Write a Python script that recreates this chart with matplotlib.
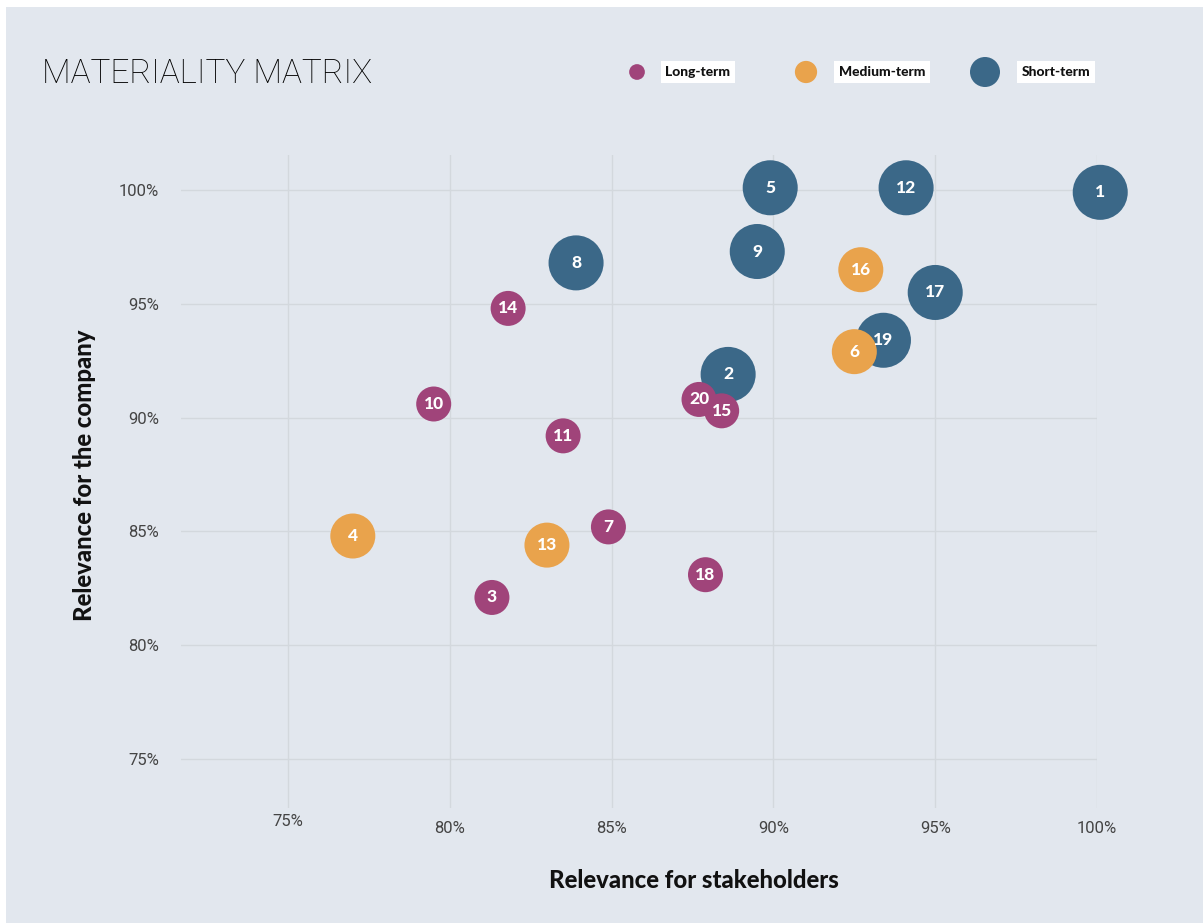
import matplotlib
matplotlib.use('Agg')
import matplotlib.pyplot as plt
from matplotlib.patches import Rectangle

# values
short_ids = ['1', '2', '5', '8', '9', '12', '17', '19']
short_x = [100.1, 88.6, 89.9, 83.9, 89.5, 94.1, 95.0, 93.4]
short_y = [99.9, 91.9, 100.1, 96.8, 97.3, 100.1, 95.5, 93.4]

medium_ids = ['4', '6', '13', '16']
medium_x = [77.0, 92.5, 83.0, 92.7]
medium_y = [84.8, 92.9, 84.4, 96.5]

long_ids = ['3', '7', '10', '11', '14', '18', '20', '15']
long_x = [81.3, 84.9, 79.5, 83.5, 81.8, 87.9, 87.7, 88.4]
long_y = [82.1, 85.2, 90.6, 89.2, 94.8, 83.1, 90.8, 90.3]

ticks = [75, 80, 85, 90, 95, 100]
tick_labels = ['75%', '80%', '85%', '90%', '95%', '100%']

bg = '#e2e7ee'
c_long, c_med, c_short = '#a0447a', '#e9a34c', '#3b6888'
bold_font = 'Lato'

W, H = 1203, 923
fig = plt.figure(figsize=(W / 100, H / 100), dpi=100)
fig.patch.set_facecolor('white')
fig.add_artist(Rectangle((6 / W, 0), 1 - 6 / W, 1 - 7 / H, transform=fig.transFigure,
                         facecolor=bg, edgecolor='none', zorder=-10))

ax = fig.add_axes([181 / W, 1 - 808 / H, (1097 - 181) / W, (808 - 155) / H])
ax.set_facecolor('none')
ax.set_xlim(71.69, 100.0)
ax.set_ylim(72.85, 101.54)
for s in ax.spines.values():
    s.set_visible(False)
ax.set_xticks(ticks)
ax.set_xticklabels([])
ax.set_yticks(ticks)
ax.set_yticklabels(tick_labels, fontsize=12, color='#444444', family='Roboto')
ax.tick_params(length=0, pad=16)
ax.grid(True, color='#d3d8dd', lw=1)
ax.set_axisbelow(True)

# x tick labels (the first one sits a bit higher in the reference)
for t, lab in zip(ticks, tick_labels):
    yy = -0.021 if t == 75 else -0.031
    ax.text(t, yy, lab, transform=ax.get_xaxis_transform(), ha='center', va='center',
            fontsize=12, color='#444444', family='Roboto')

groups = [(short_ids, short_x, short_y, c_short, 1570),
          (medium_ids, medium_x, medium_y, c_med, 1050),
          (long_ids, long_x, long_y, c_long, 635)]
for ids, xs, ys, col, size in groups:
    ax.scatter(xs, ys, s=size, color=col, edgecolors='none', zorder=3, clip_on=False)
for ids, xs, ys, col, size in groups:
    for i, x, y in zip(ids, xs, ys):
        ax.text(x, y, i, ha='center', va='center', color='white', fontsize=12.5,
                fontweight='black', family=bold_font, zorder=5)

fig.text(42 / W, 1 - 74 / H, 'MATERIALITY MATRIX', ha='left', va='center',
         fontsize=24, fontweight='light', family='Roboto', color='#000000')

fig.text(694 / W, 1 - 880 / H, 'Relevance for stakeholders', ha='center', va='center',
         fontsize=17.2, fontweight='black', family=bold_font, color='#111111')
fig.text(85 / W, 1 - 475 / H, 'Relevance for the company', ha='center', va='center',
         rotation=90, fontsize=17.2, fontweight='black', family=bold_font, color='#111111')

# legend
leg_names = ['Long-term', 'Medium-term', 'Short-term']
leg_cols = [c_long, c_med, c_short]
leg_sizes = [128, 256, 467]
leg_mx = [637, 806, 985]
leg_tx = [698, 882, 1056]
lax = fig.add_axes([0, 0, 1, 1], facecolor='none')
lax.set_xlim(0, W)
lax.set_ylim(H, 0)
lax.axis('off')
for name, col, s, mx, tx in zip(leg_names, leg_cols, leg_sizes, leg_mx, leg_tx):
    lax.scatter([mx], [72], s=s, color=col, edgecolors='none')
    lax.text(tx, 72, name, ha='center', va='center', fontsize=10, fontweight='black',
             family=bold_font, color='#111111',
             bbox=dict(boxstyle='square,pad=0.35', facecolor='white', edgecolor='none'))

fig.savefig('out.png', dpi=100, facecolor=fig.get_facecolor())
